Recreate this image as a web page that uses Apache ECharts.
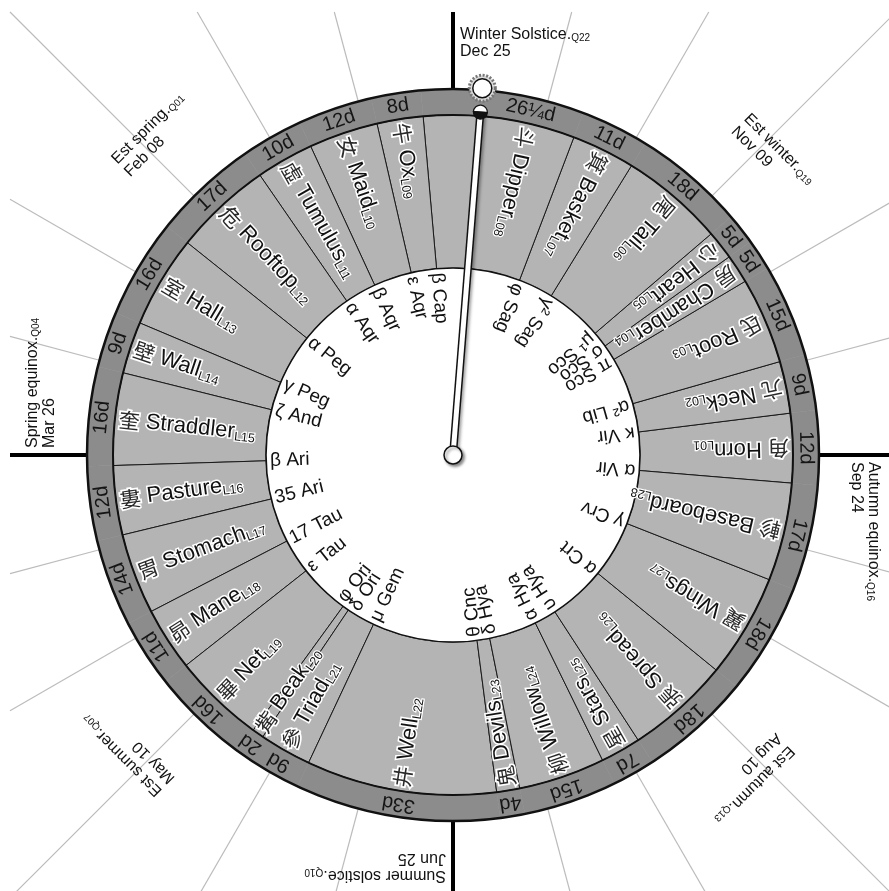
<!DOCTYPE html>
<html>
<head>
<meta charset="utf-8">
<title>Lunar mansions wheel</title>
<script src="https://cdn.jsdelivr.net/npm/echarts@6.0.0/dist/echarts.min.js"></script>
<style>
html, body { margin: 0; padding: 0; background: #ffffff; }
#chart { width: 889px; height: 891px; }
</style>
</head>
<body>
<div id="chart"></div>
<script>
// ---------------- data ----------------
// 28 lunar mansions, L01..L28 (counter-clockwise on the wheel)
const mansionHan = ['角','亢','氐','房','心','尾','箕','斗','牛','女','虛','危','室','壁','奎','婁','胃','昴','畢','觜','參','井','鬼','柳','星','張','翼','軫'];
const mansionNames = ['Horn','Neck','Root','Chamber','Heart','Tail','Basket','Dipper','Ox','Maid','Tumulus','Rooftop','Hall','Wall','Straddler','Pasture','Stomach','Mane','Net','Beak','Triad','Well','Devils','Willow','Stars','Spread','Wings','Baseboard'];
const mansionCodes = ['L01','L02','L03','L04','L05','L06','L07','L08','L09','L10','L11','L12','L13','L14','L15','L16','L17','L18','L19','L20','L21','L22','L23','L24','L25','L26','L27','L28'];
const mansionDu = [12, 9, 15, 5, 5, 18, 11, 26.25, 8, 12, 10, 17, 16, 9, 16, 12, 14, 11, 16, 2, 9, 33, 4, 15, 7, 18, 18, 17];
const mansionDuLabels = ['12d','9d','15d','5d','5d','18d','11d','26¼d','8d','12d','10d','17d','16d','9d','16d','12d','14d','11d','16d','2d','9d','33d','4d','15d','7d','18d','18d','17d'];
const determinativeStars = ['α Vir','κ Vir','α² Lib','π Sco','σ Sco','μ¹ Sco','γ² Sag','φ Sag','β Cap','ε Aqr','β Aqr','α Aqr','α Peg','γ Peg','ζ And','β Ari','35 Ari','17 Tau','ε Tau','φ Ori','δ Ori','μ Gem','θ Cnc','δ Hya','α Hya','υ Hya','α Crt','γ Crv'];
// pointer position, in du counted from the start of Horn
const needleDu = 91.5;

// 24 solar terms (Q01..Q24), lines every term
const termNumbers = [1,2,3,4,5,6,7,8,9,10,11,12,13,14,15,16,17,18,19,20,21,22,23,24];
const cardinalTerms = [4, 10, 16, 22];
const termLabelQ = [22, 1, 4, 7, 10, 13, 16, 19];
const termLabelCodes = ['Q22','Q01','Q04','Q07','Q10','Q13','Q16','Q19'];
const termLabelNames = ['Winter Solstice','Est spring','Spring equinox','Est summer','Summer solstice','Est autumn','Autumn equinox','Est winter'];
const termLabelDates = ['Dec 25','Feb 08','Mar 26','May 10','Jun 25','Aug 10','Sep 24','Nov 09'];

// ---------------- layout constants ----------------
const R_INNER = 187, R_MID = 340, R_OUTER = 366;
const R_DU_TEXT = 353, R_NAME_TEXT = 336, R_STAR_TEXT = 183;
const STAR_LABEL_GAP_PX = 16;
const LINE_BOX = 443;
const FONT = '"Liberation Sans", Arial, "Noto Sans CJK TC", sans-serif';
const FONT_CJK = '"Noto Sans CJK TC", "Noto Sans CJK SC", sans-serif';

const cumStart = [];
(function () { let s = 0; for (const d of mansionDu) { cumStart.push(s); s += d; } })();
const totalDu = mansionDu.reduce((a, b) => a + b, 0);

// spread star labels that would overlap (positions stay in du units)
const starLabelPos = (function () {
  const pos = cumStart.slice();
  const minSep = (STAR_LABEL_GAP_PX / R_STAR_TEXT) * (180 / Math.PI) * totalDu / 360;
  for (let it = 0; it < 60; it++) {
    for (let i = 0; i < pos.length; i++) {
      const j = (i + 1) % pos.length;
      let gap = pos[j] - pos[i];
      if (j === 0) gap += totalDu;
      if (gap < minSep) {
        const push = (minSep - gap) / 2;
        pos[i] -= push; pos[j] += push;
      }
    }
  }
  return pos;
})();

function labelSpan(i) {
  const s = cumStart[i], e = s + mansionDu[i];
  if (needleDu > s && needleDu < e) {
    return (needleDu - s >= e - needleDu) ? [s, needleDu] : [needleDu, e];
  }
  return [s, e];
}

function geom(api) {
  const c = api.coord([0, 0]);
  const cx = c[0], cy = c[1];
  const q = api.coord([100, 0]);
  const u = Math.hypot(q[0] - cx, q[1] - cy) / 100;
  return {
    cx: cx, cy: cy, u: u,
    pt: (r, v) => api.coord([r, v]),
    ang: (v) => { const p = api.coord([100, v]); return Math.atan2(p[1] - cy, p[0] - cx); },
    rad: (r) => r * u
  };
}
function sectorEl(g, r0, r1, v0, v1, style) {
  const a0 = g.ang(v0), a1 = g.ang(v1);
  let d = a0 - a1;
  while (d <= 0) d += 2 * Math.PI;
  while (d > 2 * Math.PI) d -= 2 * Math.PI;
  return { type: 'sector', shape: { cx: g.cx, cy: g.cy, r0: g.rad(r0), r: g.rad(r1), startAngle: a0 - d, endAngle: a0, clockwise: true }, style: style };
}
const radialRot = a => Math.PI - a;
const tangentRot = a => -(a + Math.PI / 2);

const mansionData = mansionDu.map((d, i) => [R_MID, cumStart[i]]);

const chart = echarts.init(document.getElementById('chart'), null, { renderer: 'canvas' });

const option = {
  animation: false,
  backgroundColor: '#ffffff',
  polar: [
    { center: [453, 455], radius: 700 },
    { center: [453, 455], radius: 700 }
  ],
  angleAxis: [
    { polarIndex: 0, type: 'value', min: 0, max: totalDu, startAngle: -4.75, clockwise: false, show: false },
    { polarIndex: 1, type: 'value', min: 0, max: termNumbers.length, startAngle: 120, clockwise: false, show: false }
  ],
  radiusAxis: [
    { polarIndex: 0, type: 'value', min: 0, max: 700, show: false },
    { polarIndex: 1, type: 'value', min: 0, max: 700, show: false }
  ],
  series: [
    // solar-term lines
    {
      type: 'custom', coordinateSystem: 'polar', polarIndex: 1, silent: true,
      data: termNumbers.map(q => [R_OUTER, q]),
      renderItem: function (params, api) {
        const g = geom(api);
        const q = termNumbers[params.dataIndex];
        const a = g.ang(q);
        const rEdge = LINE_BOX / Math.max(Math.abs(Math.cos(a)), Math.abs(Math.sin(a))) / g.u;
        const p0 = g.pt(R_OUTER, q), p1 = g.pt(rEdge, q);
        const major = cardinalTerms.indexOf(q) >= 0;
        return { type: 'line', shape: { x1: p0[0], y1: p0[1], x2: p1[0], y2: p1[1] },
          style: { stroke: major ? '#000000' : '#bcbcbc', lineWidth: major ? 4 : 1.2 } };
      }
    },
    // outer dark ring
    {
      type: 'custom', coordinateSystem: 'polar', polarIndex: 0, silent: true,
      data: mansionData,
      renderItem: function (params, api) {
        const g = geom(api); const i = params.dataIndex;
        return sectorEl(g, R_MID, R_OUTER, cumStart[i], cumStart[i] + mansionDu[i], { fill: '#8c8c8c', stroke: '#8c8c8c', lineWidth: 0.6 });
      }
    },
    // middle ring sectors
    {
      type: 'custom', coordinateSystem: 'polar', polarIndex: 0, silent: true,
      data: mansionData,
      renderItem: function (params, api) {
        const g = geom(api); const i = params.dataIndex;
        return sectorEl(g, R_INNER, R_MID, cumStart[i], cumStart[i] + mansionDu[i], { fill: '#b4b4b4', stroke: '#1a1a1a', lineWidth: 1 });
      }
    },
    // ring borders + inner disc
    {
      type: 'custom', coordinateSystem: 'polar', polarIndex: 0, silent: true,
      data: [[0, 0]],
      renderItem: function (params, api) {
        const g = geom(api);
        return { type: 'group', children: [
          { type: 'circle', shape: { cx: g.cx, cy: g.cy, r: g.rad(R_INNER) }, style: { fill: '#ffffff', stroke: '#111111', lineWidth: 1.6 } },
          { type: 'circle', shape: { cx: g.cx, cy: g.cy, r: g.rad(R_MID) }, style: { fill: 'none', stroke: '#111111', lineWidth: 2 } },
          { type: 'circle', shape: { cx: g.cx, cy: g.cy, r: g.rad(R_OUTER) }, style: { fill: 'none', stroke: '#111111', lineWidth: 2.5 } }
        ] };
      }
    },
    // du labels on outer ring
    {
      type: 'custom', coordinateSystem: 'polar', polarIndex: 0, silent: true,
      data: mansionData,
      renderItem: function (params, api) {
        const g = geom(api); const i = params.dataIndex;
        const sp = labelSpan(i); const m = (sp[0] + sp[1]) / 2;
        const p = g.pt(R_DU_TEXT, m); const a = g.ang(m);
        return { type: 'text', x: p[0], y: p[1], rotation: tangentRot(a),
          style: { text: mansionDuLabels[i], fill: '#151515', fontSize: 20, fontFamily: FONT, align: 'center', verticalAlign: 'middle' } };
      }
    },
    // mansion names in middle ring
    {
      type: 'custom', coordinateSystem: 'polar', polarIndex: 0, silent: true,
      data: mansionData,
      renderItem: function (params, api) {
        const g = geom(api); const i = params.dataIndex;
        const sp = labelSpan(i); const m = (sp[0] + sp[1]) / 2;
        const p = g.pt(R_NAME_TEXT, m); const a = g.ang(m);
        return { type: 'text', x: p[0], y: p[1], rotation: radialRot(a),
          style: {
            text: '{h|' + mansionHan[i] + '} {n|' + mansionNames[i] + '}{s|' + mansionCodes[i] + '}',
            fill: '#111111', stroke: '#ffffff', lineWidth: 3, fontSize: 22, fontFamily: FONT,
            align: 'left', verticalAlign: 'middle',
            rich: {
              h: { fontSize: 21, fontFamily: FONT_CJK, fill: '#2a2a2a', stroke: '#ffffff', lineWidth: 3.5, lineHeight: 23 },
              n: { fontSize: 22, fontFamily: FONT, fill: '#111111', stroke: '#ffffff', lineWidth: 3, lineHeight: 23 },
              s: { fontSize: 12.5, fontFamily: FONT, fill: '#111111', stroke: '#ffffff', lineWidth: 2.5, lineHeight: 8, verticalAlign: 'bottom' }
            }
          } };
      }
    },
    // determinative star labels in inner ring
    {
      type: 'custom', coordinateSystem: 'polar', polarIndex: 0, silent: true,
      data: mansionData,
      renderItem: function (params, api) {
        const g = geom(api); const i = params.dataIndex;
        const v = starLabelPos[i];
        const p = g.pt(R_STAR_TEXT, v); const a = g.ang(v);
        return { type: 'text', x: p[0], y: p[1], rotation: radialRot(a),
          style: { text: determinativeStars[i], fill: '#111111', fontSize: 19, fontFamily: FONT, align: 'left', verticalAlign: 'middle' } };
      }
    },
    // solar-term labels
    {
      type: 'custom', coordinateSystem: 'polar', polarIndex: 1, silent: true,
      data: termLabelQ.map(q => [0, q]),
      renderItem: function (params, api) {
        const g = geom(api); const k = params.dataIndex;
        const q = termLabelQ[k];
        const cardinal = cardinalTerms.indexOf(q) >= 0;
        const rc = cardinal ? 411.5 : 438;
        const p = g.pt(rc, q); const a = g.ang(q);
        const rot = tangentRot(a);
        const dx = cardinal ? 7 : -32;
        const half = cardinal ? 8.5 : 9;
        return { type: 'group', children: [
          { type: 'text', x: p[0], y: p[1], rotation: rot,
            style: { x: dx, y: -half, text: '{t|' + termLabelNames[k] + '.}{s|' + termLabelCodes[k] + '}',
              fill: '#111111', fontSize: 16, fontFamily: FONT, align: 'left', verticalAlign: 'middle',
              rich: {
                t: { fontSize: 16, fontFamily: FONT, fill: '#111111', lineHeight: 17 },
                s: { fontSize: 10, fontFamily: FONT, fill: '#111111', lineHeight: 6, verticalAlign: 'bottom' }
              } } },
          { type: 'text', x: p[0], y: p[1], rotation: rot,
            style: { x: dx, y: half, text: termLabelDates[k], fill: '#111111', fontSize: 16, fontFamily: FONT, align: 'left', verticalAlign: 'middle' } }
        ] };
      }
    },
    // pointer
    {
      type: 'custom', coordinateSystem: 'polar', polarIndex: 0, silent: true,
      data: [[R_MID, needleDu]],
      renderItem: function (params, api) {
        const g = geom(api); const v = needleDu; const a = g.ang(v);
        const pTip = g.pt(343, v), pKnob = g.pt(368, v), pCap = g.pt(344, v);
        return { type: 'group', children: [
          { type: 'line', shape: { x1: g.cx, y1: g.cy, x2: pTip[0], y2: pTip[1] },
            style: { stroke: '#111111', lineWidth: 8, shadowBlur: 3, shadowColor: 'rgba(0,0,0,0.35)', shadowOffsetX: 2, shadowOffsetY: 1 } },
          { type: 'line', shape: { x1: g.cx, y1: g.cy, x2: pTip[0], y2: pTip[1] }, style: { stroke: '#ffffff', lineWidth: 5 } },
          { type: 'sector', shape: { cx: pCap[0], cy: pCap[1], r0: 0, r: 7, startAngle: a - Math.PI / 2, endAngle: a + Math.PI / 2, clockwise: true },
            style: { fill: '#ffffff', stroke: '#111111', lineWidth: 1.2 } },
          { type: 'sector', shape: { cx: pCap[0], cy: pCap[1], r0: 0, r: 7, startAngle: a + Math.PI / 2, endAngle: a + 3 * Math.PI / 2, clockwise: true },
            style: { fill: '#111111', stroke: '#111111', lineWidth: 1.2 } },
          { type: 'circle', shape: { cx: pKnob[0], cy: pKnob[1], r: 13 }, style: { fill: '#dddddd', stroke: '#777777', lineWidth: 3, lineDash: [2, 1.6] } },
          { type: 'circle', shape: { cx: pKnob[0], cy: pKnob[1], r: 9.5 }, style: { fill: '#ffffff', stroke: '#111111', lineWidth: 1.5 } },
          { type: 'circle', shape: { cx: g.cx, cy: g.cy, r: 9 },
            style: { fill: '#ffffff', stroke: '#111111', lineWidth: 1.5, shadowBlur: 3, shadowColor: 'rgba(0,0,0,0.45)', shadowOffsetX: 2, shadowOffsetY: 2 } }
        ] };
      }
    }
  ]
};
chart.setOption(option);
</script>
</body>
</html>
